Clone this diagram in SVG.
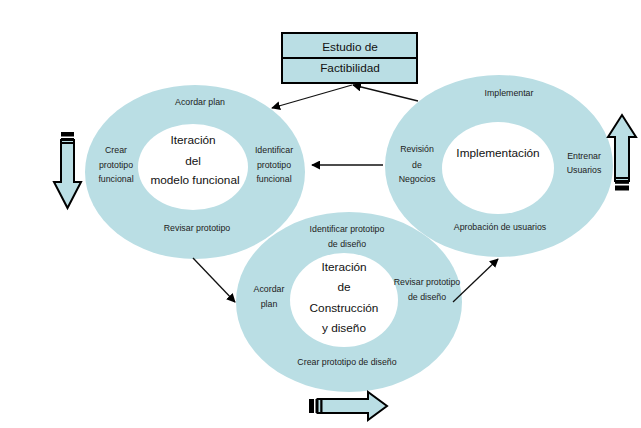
<svg xmlns="http://www.w3.org/2000/svg" width="641" height="428" viewBox="0 0 641 428">
<style>
.ring{fill:#badee4}
.hole{fill:#ffffff}
.s{font-family:"Liberation Sans",Arial,sans-serif;font-size:8.8px;fill:#222;text-anchor:middle}
.b{font-family:"Liberation Sans",Arial,sans-serif;font-size:11.8px;fill:#111;text-anchor:middle}
.conn{stroke:#111;stroke-width:1.3;fill:none;marker-end:url(#ah)}
.blk{fill:#badee4;stroke:#000;stroke-width:2;stroke-linejoin:miter}
</style>
<defs>
<marker id="ah" viewBox="0 0 10 10" refX="9" refY="5" markerWidth="9" markerHeight="9" markerUnits="userSpaceOnUse" orient="auto">
<path d="M0,0 L10,5 L0,10 Z" fill="#000"/>
</marker>
</defs>
<rect width="641" height="428" fill="#fff"/>

<g id="node-funcional">
<ellipse class="ring" cx="195" cy="172" rx="110" ry="87"/>
<ellipse class="hole" cx="193" cy="167" rx="55" ry="43"/>
<text class="s" x="200" y="105">Acordar plan</text>
<text class="s" x="116" y="153">Crear</text>
<text class="s" x="116" y="168">prototipo</text>
<text class="s" x="116" y="182">funcional</text>
<text class="s" x="274" y="153">Identificar</text>
<text class="s" x="274" y="168">prototipo</text>
<text class="s" x="274" y="182">funcional</text>
<text class="b" x="193" y="144">Iteración</text>
<text class="b" x="193" y="165">del</text>
<text class="b" x="195" y="184">modelo funcional</text>
<text class="s" x="197" y="231">Revisar prototipo</text>
</g>

<g id="node-implementacion">
<ellipse class="ring" cx="499" cy="166" rx="114" ry="91"/>
<ellipse class="hole" cx="498" cy="168" rx="56" ry="46"/>
<text class="s" x="509" y="96">Implementar</text>
<text class="s" x="417" y="152">Revisión</text>
<text class="s" x="417" y="168">de</text>
<text class="s" x="417" y="182">Negocios</text>
<text class="b" x="498" y="157">Implementación</text>
<text class="s" x="584" y="159">Entrenar</text>
<text class="s" x="584" y="173">Usuarios</text>
<text class="s" x="500" y="230">Aprobación de usuarios</text>
</g>

<g id="node-construccion">
<ellipse class="ring" cx="349" cy="302" rx="113" ry="90"/>
<ellipse class="hole" cx="344" cy="300" rx="54" ry="47"/>
<text class="s" x="347" y="232">Identificar prototipo</text>
<text class="s" x="347" y="247">de diseño</text>
<text class="s" x="269" y="292">Acordar</text>
<text class="s" x="269" y="307">plan</text>
<text class="b" x="344" y="271">Iteración</text>
<text class="b" x="344" y="291">de</text>
<text class="b" x="344" y="312">Construcción</text>
<text class="b" x="344" y="332">y diseño</text>
<text class="s" x="427" y="285">Revisar prototipo</text>
<text class="s" x="427" y="300">de diseño</text>
<text class="s" x="347" y="365">Crear prototipo de diseño</text>
</g>

<g id="node-factibilidad">
<rect x="282" y="33" width="135" height="50" fill="#badee4" stroke="#000" stroke-width="2"/>
<line x1="282" y1="58" x2="417" y2="58" stroke="#000" stroke-width="2"/>
<text class="b" x="350" y="51">Estudio de</text>
<text class="b" x="350" y="72">Factibilidad</text>
</g>

<g id="connectors">
<line class="conn" x1="418" y1="101" x2="353" y2="85"/>
<line class="conn" x1="352" y1="85" x2="272" y2="108"/>
<line class="conn" x1="383" y1="165" x2="312" y2="165"/>
<line class="conn" x1="193" y1="258" x2="235" y2="302"/>
<line class="conn" x1="453" y1="302" x2="498" y2="259"/>
</g>

<g id="arrow-down">
<rect x="61" y="132" width="13" height="4.5" fill="#000"/>
<rect x="61" y="138" width="13" height="1.8" fill="#000"/>
<rect x="61" y="140" width="13" height="3" class="blk" stroke-width="1.2"/>
<path class="blk" d="M61,143 L61,182 L54,182 L67.5,208 L81,182 L74,182 L74,143 Z"/>
</g>

<g id="arrow-up">
<path class="blk" d="M615,178 L615,137 L608,137 L622,115 L636,137 L629,137 L629,178 Z"/>
<rect x="615" y="178" width="14" height="3" class="blk" stroke-width="1.2"/>
<rect x="615" y="182" width="14" height="1.8" fill="#000"/>
<rect x="615" y="185.5" width="14" height="5" fill="#000"/>
</g>

<g id="arrow-right">
<rect x="309" y="399" width="5" height="14" fill="#000"/>
<rect x="315.5" y="399" width="1.8" height="14" fill="#000"/>
<rect x="317.5" y="399" width="4" height="14" class="blk" stroke-width="1.2"/>
<path class="blk" d="M321.5,399 L368,399 L368,392 L387,406 L368,420 L368,413 L321.5,413 Z"/>
</g>
</svg>
